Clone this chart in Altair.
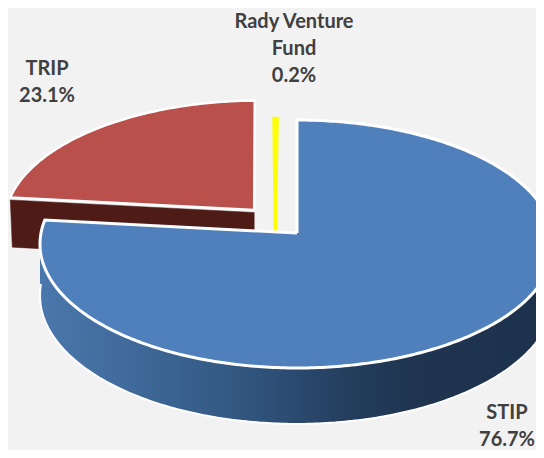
import math
import altair as alt
import pandas as pd

# ---- chart values ----
categories = ["STIP", "TRIP", "Rady Venture Fund"]
shares = [76.7, 23.1, 0.2]
slice_colors = ["#4F80BC", "#BA504C", "#FFFF00"]
label_lines = [["STIP", "76.7%"], ["TRIP", "23.1%"], ["Rady Venture", "Fund", "0.2%"]]

# ---- layout of the tilted pie (not data) ----
W, H = 528, 442
CX, CY = 297.0, 233.0      # page pixels of the pie's axis
RX, RY = 256.0, 123.0      # radii
PERSP = 0.0887             # perspective strength
DEPTH = 51.0 / 256.0       # side wall height in radii
explode = {"STIP": (0.0, 0.0, 1.0), "TRIP": (-0.17, -0.19, 0.985),
           "Rady Venture Fund": (-0.085, -0.015, 1.0)}
ASPECT = RY / RX


def project(u, v):
    s = 1.0 / (1.0 - PERSP * v)
    return u * s, v * s * ASPECT, s


def wedge(name, start, end, n=120):
    ou, ov, ru = explode[name]
    pts = []
    x, y, _ = project(ou, ov)
    pts.append((x, y))
    for i in range(n + 1):
        th = math.radians(start + (end - start) * i / n)
        x, y, _ = project(ou + ru * math.sin(th), ov - math.cos(th))
        pts.append((x, y))
    x, y, _ = project(ou, ov)
    pts.append((x, y))
    return pts


# slice angles come from the shares, clockwise from 12 o'clock
angles = {}
acc = 0.0
for c, v in zip(categories, shares):
    angles[c] = (acc * 3.6, (acc + v) * 3.6)
    acc += v

x_scale = alt.Scale(domain=[(8 - CX) / RX, (8 + W - CX) / RX], nice=False, zero=False)
y_scale = alt.Scale(domain=[(8 + H - CY) / RX, (8 - CY) / RX], nice=False, zero=False)
X = alt.X("x:Q", scale=x_scale, axis=None)
Y = alt.Y("y:Q", scale=y_scale, axis=None)


def polygon(points, fill, stroke, sw):
    df = pd.DataFrame({"x": [p[0] for p in points], "y": [p[1] for p in points],
                       "o": list(range(len(points)))})
    return alt.Chart(df).mark_line(fill=fill, stroke=stroke, strokeWidth=sw,
                                   strokeJoin="miter", clip=True).encode(
        x=X, y=Y, order=alt.Order("o:Q"))


# dark cut face of the TRIP slice, seen below its edge
ou, ov, ru = explode["TRIP"]
a0 = math.radians(angles["TRIP"][0])
ax, ay, asc = project(ou, ov)
bx, by, bsc = project(ou + ru * math.sin(a0), ov - math.cos(a0))
gap = 2.5 / RX
face = [(ax, ay + gap), (bx, by + gap), (bx + 2 / RX, by + DEPTH * bsc), (ax, ay + DEPTH * asc),
        (ax, ay + gap)]
face_layer = polygon(face, "#4E1B17", "#4E1B17", 0.5)

# side wall of the STIP slice
wall_rows = []
for i in range(241):
    th = math.radians(90 + 180 * i / 240)
    x, y, s = project(math.sin(th), -math.cos(th))
    wall_rows.append({"x": x, "y": y, "y2": y + DEPTH * s, "o": i})
wall_df = pd.DataFrame(wall_rows)
grad = alt.Gradient(
    gradient="linear", x1=0, x2=1, y1=0, y2=0,
    stops=[alt.GradientStop(color="#4A78AC", offset=0.0),
           alt.GradientStop(color="#3E6897", offset=0.2),
           alt.GradientStop(color="#30537C", offset=0.42),
           alt.GradientStop(color="#243E5E", offset=0.6),
           alt.GradientStop(color="#1F3550", offset=0.72),
           alt.GradientStop(color="#1D314B", offset=1.0)])
wall = alt.Chart(wall_df).mark_area(color=grad, clip=True).encode(
    x=X, y=Y, y2=alt.Y2("y2:Q"))
wall_edge = alt.Chart(wall_df).mark_line(stroke="white", strokeWidth=2, clip=True).encode(
    x=X, y=alt.Y("y2:Q", scale=y_scale, axis=None), order=alt.Order("o:Q"))

# top faces
trip = polygon(wedge("TRIP", *angles["TRIP"]), slice_colors[1], "white", 2.5)
rady = polygon(wedge("Rady Venture Fund", *angles["Rady Venture Fund"], n=4),
               slice_colors[2], slice_colors[2], 3.5)
stip = polygon(wedge("STIP", *angles["STIP"], n=360), slice_colors[0], "white", 3)

# labels
label_anchor = [(507, 413), (47, 69), (294, 22)]
rows = []
for lines, (lx, ly) in zip(label_lines, label_anchor):
    step = 27
    for j, t in enumerate(lines):
        rows.append({"t": t, "px": lx - 8, "py": ly - 8 + j * step})
text = alt.Chart(pd.DataFrame(rows)).mark_text(
    font="Lato", fontWeight="bold", fontSize=20, color="#404040", align="center", baseline="middle"
).encode(x=alt.X("px:Q", scale=alt.Scale(domain=[0, W], nice=False), axis=None),
         y=alt.Y("py:Q", scale=alt.Scale(domain=[H, 0], nice=False), axis=None),
         text="t:N")

geo = alt.layer(face_layer, trip, rady, wall, wall_edge, stip)
chart = alt.layer(geo, text).resolve_scale(x="independent", y="independent").properties(
    width=W, height=H, padding=0, background="#F2F2F2",
    autosize=alt.AutoSizeParams(type="none")
).configure_view(stroke=None)

chart.save("out.html", embed_options={"renderer": "svg", "actions": False})
